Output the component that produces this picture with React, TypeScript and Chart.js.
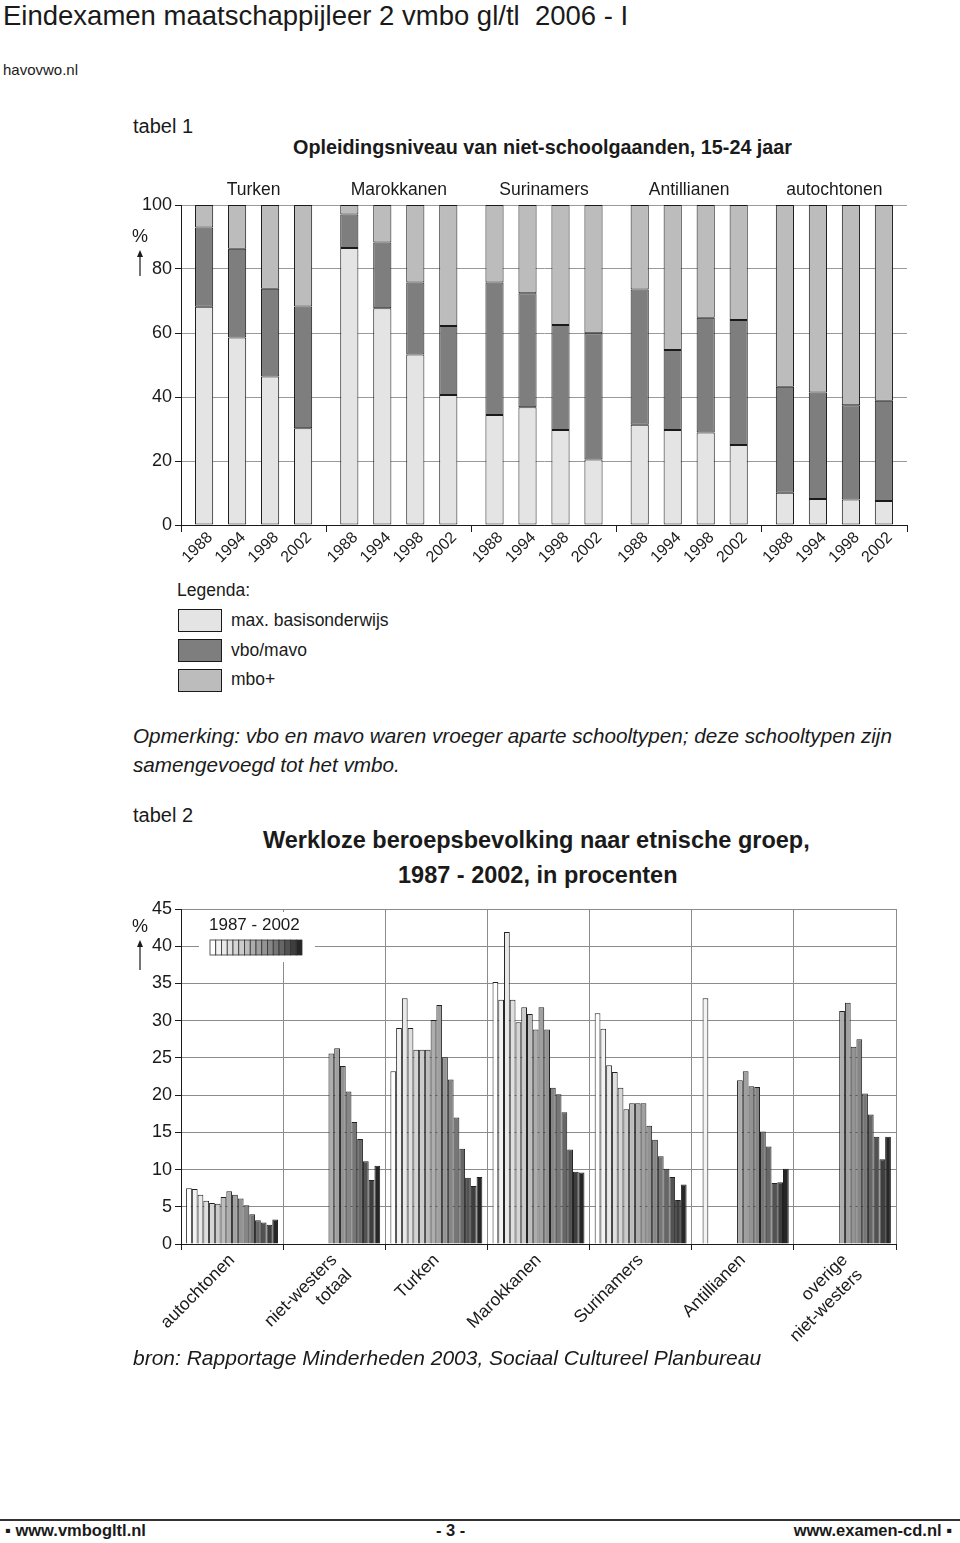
import React, { useEffect, useRef } from 'react';
import { Chart, registerables } from 'chart.js';

Chart.register(...registerables);

const FONT = '"Liberation Sans", Arial, Helvetica, sans-serif';
const INK = '#1a1a1a';

// ---------- tabel 1 ----------
const groups1 = ['Turken', 'Marokkanen', 'Surinamers', 'Antillianen', 'autochtonen'];
const years1 = ['1988', '1994', '1998', '2002'];
// per group: values for 1988, 1994, 1998, 2002 (percent)
const basisonderwijs = [
  [68.2, 58.6, 46.4, 30.2],
  [86.6, 67.7, 53.3, 40.6],
  [34.4, 36.8, 29.7, 20.5],
  [31.3, 29.7, 28.9, 25.0],
  [10.1, 8.1, 8.0, 7.5],
];
const vboMavo = [
  [24.8, 27.7, 27.4, 38.1],
  [10.4, 20.6, 22.5, 21.6],
  [41.4, 35.6, 32.8, 39.4],
  [42.3, 25.0, 35.9, 39.1],
  [33.1, 33.3, 29.4, 31.3],
];
const mboPlus = [
  [7.0, 13.7, 26.2, 31.7],
  [3.0, 11.7, 24.2, 37.8],
  [24.2, 27.6, 37.5, 40.1],
  [26.4, 45.3, 35.2, 35.9],
  [56.8, 58.6, 62.6, 61.2],
];
const levelNames = ['max. basisonderwijs', 'vbo/mavo', 'mbo+'];
const levelColors = ['#e4e4e4', '#7e7e7e', '#bcbcbc'];

// ---------- tabel 2 ----------
const groups2: (string | string[])[] = [
  'autochtonen',
  ['niet-westers', 'totaal'],
  'Turken',
  'Marokkanen',
  'Surinamers',
  'Antillianen',
  ['overige', 'niet-westers'],
];
const years2 = ['1987', '1988', '1989', '1990', '1991', '1992', '1993', '1994', '1995', '1996', '1997', '1998', '1999', '2000', '2001', '2002'];
const autochtonen = [7.5, 7.4, 6.6, 5.8, 5.5, 5.4, 6.3, 7.1, 6.6, 6.1, 5.2, 4.0, 3.2, 2.9, 2.6, 3.3];
const nietWestersTotaal = [null, null, null, null, null, null, null, 25.6, 26.3, 23.9, 20.5, 16.4, 14.1, 11.1, 8.6, 10.5];
const turken = [23.2, 29.0, 33.0, 29.0, 26.1, 26.1, 26.1, 30.1, 32.1, 25.1, 22.1, 17.0, 12.8, 8.9, 7.8, 9.0];
const marokkanen = [35.2, 32.8, 41.9, 32.8, 29.8, 31.8, 30.9, 28.8, 31.8, 28.8, 21.0, 20.1, 17.7, 12.7, 9.7, 9.6];
const surinamers = [31.0, 28.9, 24.0, 23.1, 21.0, 18.1, 18.9, 18.9, 18.9, 15.9, 14.0, 11.8, 10.1, 9.0, 5.9, 8.0];
const antillianen = [null, 33.0, null, null, null, null, null, 22.0, 23.2, 21.2, 21.1, 15.1, 13.1, 8.2, 8.3, 10.1];
const overigeNietWesters = [null, null, null, null, null, null, null, 31.3, 32.4, 26.5, 27.5, 20.2, 17.4, 14.4, 11.4, 14.4];
const yearColors = [
  '#ffffff', '#f3f3f3', '#e9e9e9', '#dfdfdf', '#d5d5d5', '#cbcbcb', '#bdbdbd', '#adadad',
  '#a0a0a0', '#939393', '#868686', '#767676', '#666666', '#525252', '#3e3e3e', '#262626',
];

function drawPercentArrow(ctx: CanvasRenderingContext2D, x: number, yText: number, yTop: number, yBottom: number) {
  ctx.save();
  ctx.fillStyle = INK;
  ctx.strokeStyle = INK;
  ctx.font = `18px ${FONT}`;
  ctx.textAlign = 'center';
  ctx.textBaseline = 'middle';
  ctx.fillText('%', x, yText);
  ctx.lineWidth = 1.2;
  ctx.beginPath();
  ctx.moveTo(x, yBottom);
  ctx.lineTo(x, yTop + 5);
  ctx.stroke();
  ctx.beginPath();
  ctx.moveTo(x, yTop);
  ctx.lineTo(x - 3, yTop + 7);
  ctx.lineTo(x + 3, yTop + 7);
  ctx.closePath();
  ctx.fill();
  ctx.restore();
}

function Chart1() {
  const ref = useRef<HTMLCanvasElement>(null);
  useEffect(() => {
    const datasets: any[] = [];
    const levels = [basisonderwijs, vboMavo, mboPlus];
    years1.forEach((yr, yi) => {
      levels.forEach((arr, li) => {
        datasets.push({
          label: `${levelNames[li]} ${yr}`,
          data: groups1.map((_, gi) => arr[gi][yi]),
          backgroundColor: levelColors[li],
          borderColor: INK,
          borderWidth: 1,
          borderSkipped: false,
          stack: yr,
          categoryPercentage: 0.909,
          barPercentage: 0.55,
        });
      });
    });
    const labelsPlugin = {
      id: 'labels1',
      afterDraw(chart: any) {
        const { ctx, chartArea, scales } = chart;
        ctx.save();
        ctx.fillStyle = INK;
        ctx.font = `17.5px ${FONT}`;
        ctx.textAlign = 'center';
        ctx.textBaseline = 'middle';
        groups1.forEach((g, i) => ctx.fillText(g, scales.x.getPixelForValue(i), chartArea.top - 15));
        ctx.font = `16px ${FONT}`;
        ctx.textAlign = 'right';
        years1.forEach((yr, yi) => {
          const meta = chart.getDatasetMeta(yi * 3);
          meta.data.forEach((bar: any) => {
            ctx.save();
            ctx.translate(bar.x + 6, chartArea.bottom + 10);
            ctx.rotate(-Math.PI / 4);
            ctx.fillText(yr, 0, 0);
            ctx.restore();
          });
        });
        ctx.restore();
        drawPercentArrow(ctx, chartArea.left - 41, chartArea.top + 32, chartArea.top + 45, chartArea.top + 71);
      },
    };
    const chart = new Chart(ref.current as HTMLCanvasElement, {
      type: 'bar',
      data: { labels: groups1, datasets },
      options: {
        animation: false,
        responsive: false,
        layout: { padding: { top: 35, right: 13, left: 0, bottom: 0 } },
        plugins: { legend: { display: false }, tooltip: { enabled: false } },
        scales: {
          x: {
            stacked: true,
            offset: true,
            grid: { offset: true, drawOnChartArea: false, drawTicks: true, tickLength: 7, color: INK, tickColor: INK },
            border: { display: true, color: INK, width: 1 },
            ticks: { display: false },
            afterFit: (s: any) => { s.height = 55; },
          },
          y: {
            stacked: true,
            min: 0,
            max: 100,
            ticks: { stepSize: 20, font: { family: FONT, size: 18 }, color: INK, padding: 3 },
            grid: { color: '#9a9a9a', tickColor: INK, tickLength: 6 },
            border: { color: INK, width: 1 },
            afterFit: (s: any) => { s.width = 61; },
          },
        },
      } as any,
      plugins: [labelsPlugin],
    });
    return () => chart.destroy();
  }, []);
  return <canvas ref={ref} width={800} height={410} style={{ position: 'absolute', left: 120, top: 170, width: 800, height: 410 }} />;
}

function Chart2() {
  const ref = useRef<HTMLCanvasElement>(null);
  useEffect(() => {
    const series = [autochtonen, nietWestersTotaal, turken, marokkanen, surinamers, antillianen, overigeNietWesters];
    const datasets = years2.map((yr, k) => ({
      label: yr,
      data: series.map((s) => s[k]),
      backgroundColor: yearColors[k],
      borderColor: '#222222',
      borderWidth: 1,
      categoryPercentage: 0.9,
      barPercentage: 1,
    }));
    const legendPlugin = {
      id: 'legend2',
      afterDraw(chart: any) {
        const { ctx, chartArea } = chart;
        const bx = chartArea.left + 18;
        const by = chartArea.top + 3;
        ctx.save();
        ctx.fillStyle = '#ffffff';
        ctx.fillRect(bx, by, 116, 50);
        ctx.fillStyle = INK;
        ctx.font = `17px ${FONT}`;
        ctx.textAlign = 'left';
        ctx.textBaseline = 'middle';
        ctx.fillText(`${years2[0]} - ${years2[years2.length - 1]}`, chartArea.left + 28, chartArea.top + 16);
        const cw = 92 / years2.length;
        const sx = chartArea.left + 29;
        const sy = chartArea.top + 31;
        years2.forEach((_, k) => {
          ctx.fillStyle = yearColors[k];
          ctx.fillRect(sx + k * cw, sy, cw, 15);
          ctx.strokeStyle = '#333';
          ctx.lineWidth = 0.8;
          ctx.strokeRect(sx + k * cw, sy, cw, 15);
        });
        ctx.restore();
        drawPercentArrow(ctx, chartArea.left - 41, chartArea.top + 18, chartArea.top + 31, chartArea.top + 61);
      },
    };
    const chart = new Chart(ref.current as HTMLCanvasElement, {
      type: 'bar',
      data: { labels: groups2, datasets },
      options: {
        animation: false,
        responsive: false,
        layout: { padding: { top: 29, right: 24, left: 0, bottom: 0 } },
        plugins: { legend: { display: false }, tooltip: { enabled: false } },
        scales: {
          x: {
            offset: true,
            grid: { offset: true, drawOnChartArea: true, drawTicks: true, tickLength: 6, color: '#8c8c8c', tickColor: INK },
            border: { display: true, color: INK, width: 1 },
            ticks: {
              autoSkip: false,
              minRotation: 45,
              maxRotation: 45,
              padding: 0,
              font: { family: FONT, size: 17.5 },
              color: INK,
            },
            afterFit: (s: any) => { s.height = 116; },
          },
          y: {
            min: 0,
            max: 45,
            ticks: { stepSize: 5, font: { family: FONT, size: 18 }, color: INK, padding: 3 },
            grid: { color: '#8c8c8c', tickColor: INK, tickLength: 6 },
            border: { color: INK, width: 1 },
            afterFit: (s: any) => { s.width = 61; },
          },
        },
      } as any,
      plugins: [legendPlugin],
    });
    return () => chart.destroy();
  }, []);
  return <canvas ref={ref} width={800} height={480} style={{ position: 'absolute', left: 120, top: 880, width: 800, height: 480 }} />;
}

type TxtProps = {
  x: number;
  y: number;
  size: number;
  weight?: number;
  italic?: boolean;
  children: React.ReactNode;
};

function Txt({ x, y, size, weight = 400, italic = false, children }: TxtProps) {
  return (
    <div
      style={{
        position: 'absolute',
        left: x,
        top: y - size * 0.6,
        fontSize: size,
        lineHeight: `${size * 1.2}px`,
        fontWeight: weight,
        fontStyle: italic ? 'italic' : 'normal',
        fontFamily: FONT,
        whiteSpace: 'nowrap',
        color: INK,
      }}
    >
      {children}
    </div>
  );
}

function LegendBox({ y, color }: { y: number; color: string }) {
  return (
    <div
      style={{
        position: 'absolute',
        left: 178,
        top: y,
        width: 42,
        height: 21,
        background: color,
        border: `1px solid ${INK}`,
      }}
    />
  );
}

export default function App() {
  return (
    <div style={{ position: 'absolute', left: 0, top: 0, width: 960, height: 1543, background: '#fff', overflow: 'hidden' }}>
      <Txt x={3} y={15} size={27.5}>Eindexamen maatschappijleer 2 vmbo gl/tl&nbsp; 2006 - I</Txt>
      <Txt x={3} y={70} size={15}>havovwo.nl</Txt>
      <Txt x={133} y={126} size={20}>tabel 1</Txt>
      <Txt x={293} y={148} size={19.8} weight={700}>Opleidingsniveau van niet-schoolgaanden, 15-24 jaar</Txt>

      <Chart1 />

      <Txt x={177} y={590} size={17.5}>Legenda:</Txt>
      <LegendBox y={609} color={levelColors[0]} />
      <LegendBox y={639} color={levelColors[1]} />
      <LegendBox y={669} color={levelColors[2]} />
      <Txt x={231} y={620} size={17.5}>{levelNames[0]}</Txt>
      <Txt x={231} y={650} size={17.5}>{levelNames[1]}</Txt>
      <Txt x={231} y={679} size={17.5}>{levelNames[2]}</Txt>

      <Txt x={133} y={736} size={20.7} italic>Opmerking: vbo en mavo waren vroeger aparte schooltypen; deze schooltypen zijn</Txt>
      <Txt x={133} y={765} size={20.7} italic>samengevoegd tot het vmbo.</Txt>

      <Txt x={133} y={815} size={20}>tabel 2</Txt>
      <Txt x={263} y={840} size={23.5} weight={700}>Werkloze beroepsbevolking naar etnische groep,</Txt>
      <Txt x={398} y={875} size={23.5} weight={700}>1987 - 2002, in procenten</Txt>

      <Chart2 />

      <Txt x={133} y={1358} size={21} italic>bron: Rapportage Minderheden 2003, Sociaal Cultureel Planbureau</Txt>

      <div style={{ position: 'absolute', left: 0, top: 1519, width: 960, height: 2, background: '#333' }} />
      <Txt x={5} y={1531} size={16.5} weight={700}>▪ www.vmbogltl.nl</Txt>
      <Txt x={436} y={1531} size={16.5} weight={700}>- 3 -</Txt>
      <div
        style={{
          position: 'absolute',
          right: 8,
          top: 1531 - 9.9,
          fontSize: 16.5,
          lineHeight: '19.8px',
          fontWeight: 700,
          fontFamily: FONT,
          whiteSpace: 'nowrap',
          color: INK,
        }}
      >
        www.examen-cd.nl ▪
      </div>
    </div>
  );
}
